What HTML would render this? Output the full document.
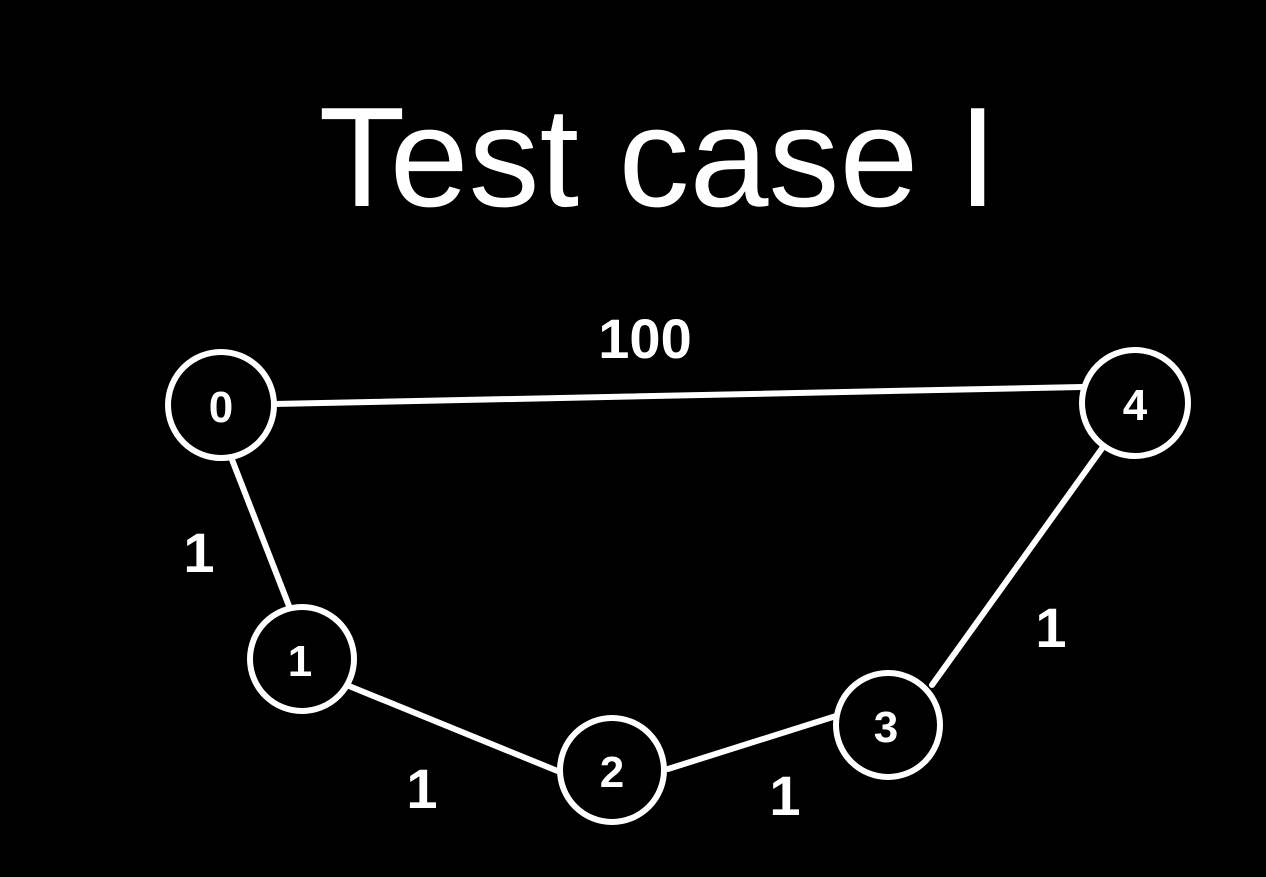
<!DOCTYPE html>
<html><head><style>
html,body{margin:0;padding:0;background:#000;width:1266px;height:877px;overflow:hidden}
</style></head><body>
<svg width="1266" height="877" xmlns="http://www.w3.org/2000/svg">
<rect width="1266" height="877" fill="#000"/>
<text x="658" y="206" font-family="Liberation Sans, sans-serif" font-size="142" fill="#fff" text-anchor="middle">Test case I</text>
<g stroke="#fff" stroke-width="6" fill="none" stroke-linecap="round">
<line x1="274" y1="404" x2="1082" y2="387"/>
<line x1="231" y1="457" x2="289" y2="606"/>
<line x1="349" y1="686" x2="560" y2="772"/>
<line x1="668" y1="769" x2="836" y2="716"/>
<line x1="932" y1="685" x2="1103" y2="447"/>
<circle cx="221" cy="405" r="53"/>
<circle cx="1135" cy="403" r="53"/>
<circle cx="302" cy="659" r="52"/>
<circle cx="612" cy="770" r="52"/>
<circle cx="888" cy="725" r="52"/>
</g>
<g fill="#fff" font-family="Liberation Sans, sans-serif" font-weight="bold" text-anchor="middle">
<text x="221" y="422" font-size="44">0</text>
<text x="1135" y="420" font-size="44">4</text>
<text x="300" y="676" font-size="44">1</text>
<text x="612" y="787" font-size="44">2</text>
<text x="886" y="742" font-size="44">3</text>
<text x="645" y="358" font-size="56">100</text>
<text x="199" y="572" font-size="56">1</text>
<text x="422" y="808" font-size="56">1</text>
<text x="785" y="815" font-size="56">1</text>
<text x="1051" y="647" font-size="56">1</text>
</g>
</svg>
</body></html>
